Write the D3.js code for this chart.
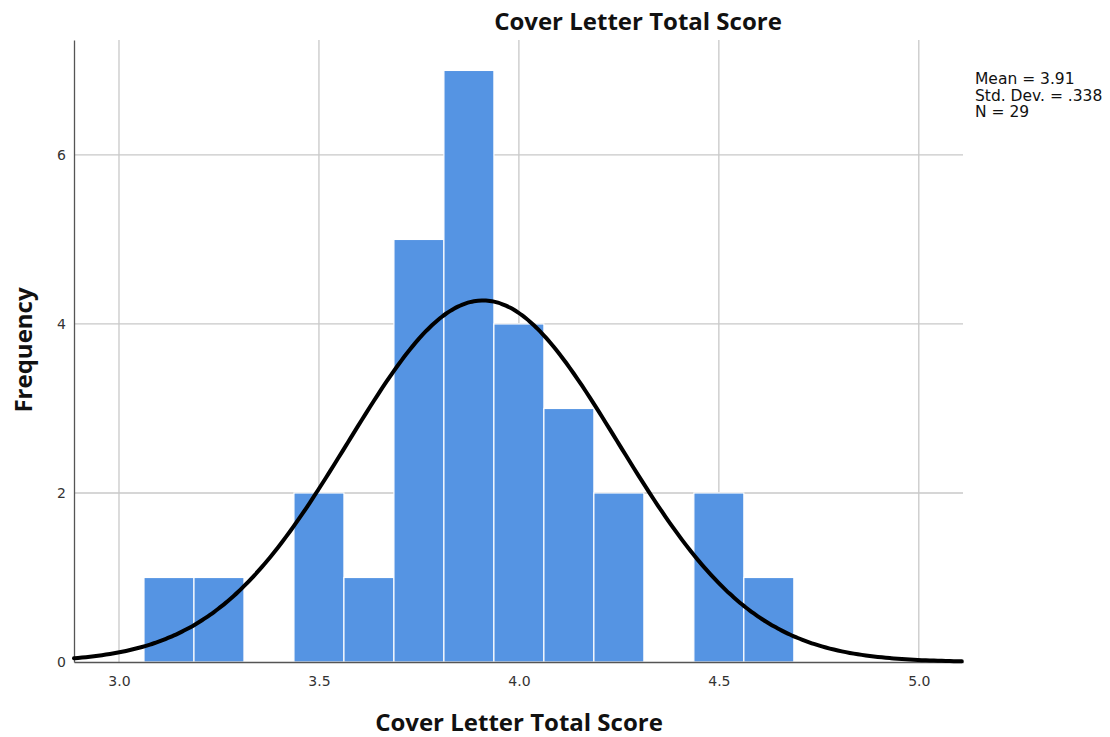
<!DOCTYPE html>
<html lang="en">
<head>
<meta charset="utf-8">
<script src="https://d3js.org/d3.v7.min.js"></script>
<title>Cover Letter Total Score</title>
<style>
  body { margin: 0; background: #fff; }
  svg text { fill: #222; }
  .tick-label { font-family: "DejaVu Sans", sans-serif; font-size: 14px; fill: #333; }
  .bold-label { font-family: "Open Sans", sans-serif; font-weight: bold; font-size: 24px; fill: #111; }
</style>
</head>
<body>
<svg id="chart" width="1110" height="737"></svg>
<script>
// histogram bins (lower edge) and counts
const binLower = [3.0625, 3.1875, 3.3125, 3.4375, 3.5625, 3.6875, 3.8125, 3.9375, 4.0625, 4.1875, 4.3125, 4.4375, 4.5625]
const binCounts = [1, 1, 0, 2, 1, 5, 7, 4, 3, 2, 0, 2, 1]
const binWidth = 0.125

// summary stats shown top right
const mean = 3.91, stdDev = 0.338, n = 29
const statsText = ["Mean = 3.91", "Std. Dev. = .338", "N = 29"]

const xTicks = [3.0, 3.5, 4.0, 4.5, 5.0]
const yTicks = [0, 2, 4, 6]

const margin = {top: 40, right: 147, bottom: 75, left: 74},
  width = 1110 - margin.left - margin.right,
  height = 737 - margin.top - margin.bottom

const svg = d3.select("#chart")
const g = svg.append("g")
  .attr("transform", `translate(${margin.left},${margin.top})`)

const x = d3.scaleLinear()
  .domain([2.8875, 5.1105])
  .range([0, width])

const y = d3.scaleLinear()
  .domain([0, 7.36])
  .range([height, 0])

// grid lines
g.append("g")
  .selectAll("line")
  .data(xTicks)
  .join("line")
    .attr("x1", d => x(d)).attr("x2", d => x(d))
    .attr("y1", 0).attr("y2", height)
    .attr("stroke", "#c8c8c8")
    .attr("stroke-width", 1.3)

g.append("g")
  .selectAll("line")
  .data(yTicks.filter(d => d > 0))
  .join("line")
    .attr("x1", 0).attr("x2", width)
    .attr("y1", d => y(d)).attr("y2", d => y(d))
    .attr("stroke", "#c8c8c8")
    .attr("stroke-width", 1.3)

// bars
g.append("g")
  .selectAll("rect")
  .data(binLower.map((d, i) => ({x0: d, count: binCounts[i]})).filter(d => d.count > 0))
  .join("rect")
    .attr("x", d => x(d.x0))
    .attr("width", d => x(d.x0 + binWidth) - x(d.x0))
    .attr("y", d => y(d.count))
    .attr("height", d => y(0) - y(d.count))
    .attr("fill", "#5594e3")
    .attr("stroke", "#fff")
    .attr("stroke-width", 1.2)

// axes
const xAxis = g.append("g")
  .attr("transform", `translate(0,${height})`)
  .call(d3.axisBottom(x).tickValues(xTicks).tickFormat(d3.format(".1f")).tickSize(0).tickPadding(14))
xAxis.select(".domain").attr("stroke", "#555").attr("stroke-width", 1.3)
xAxis.selectAll("text").attr("class", "tick-label")

const yAxis = g.append("g")
  .call(d3.axisLeft(y).tickValues(yTicks).tickFormat(d3.format("d")).tickSize(0).tickPadding(8))
yAxis.select(".domain").attr("stroke", "#555").attr("stroke-width", 1.3)
yAxis.selectAll("text").attr("class", "tick-label")

// normal curve from the summary stats
const normal = v => n * binWidth / (stdDev * Math.sqrt(2 * Math.PI)) *
  Math.exp(-0.5 * Math.pow((v - mean) / stdDev, 2))
const curvePts = d3.range(x.domain()[0], x.domain()[1] + 0.001, 0.01).map(v => [v, normal(v)])

g.append("path")
  .datum(curvePts)
  .attr("fill", "none")
  .attr("stroke", "#000")
  .attr("stroke-width", 4)
  .attr("stroke-linecap", "round")
  .attr("d", d3.line().x(d => x(d[0])).y(d => y(d[1])).curve(d3.curveBasis))

// titles
svg.append("text")
  .attr("class", "bold-label")
  .attr("x", 638).attr("y", 30)
  .attr("text-anchor", "middle")
  .text("Cover Letter Total Score")

svg.append("text")
  .attr("class", "bold-label")
  .attr("x", 519).attr("y", 731)
  .attr("text-anchor", "middle")
  .text("Cover Letter Total Score")

svg.append("text")
  .attr("class", "bold-label")
  .attr("transform", "translate(32,350) rotate(-90)")
  .attr("text-anchor", "middle")
  .text("Frequency")

// stats box
svg.append("g")
  .selectAll("text")
  .data(statsText)
  .join("text")
    .attr("class", "tick-label")
    .attr("x", 975)
    .attr("y", (d, i) => 84 + i * 16.5)
    .style("font-size", "15.5px")
    .style("fill", "#111")
    .text(d => d)
</script>
</body>
</html>
